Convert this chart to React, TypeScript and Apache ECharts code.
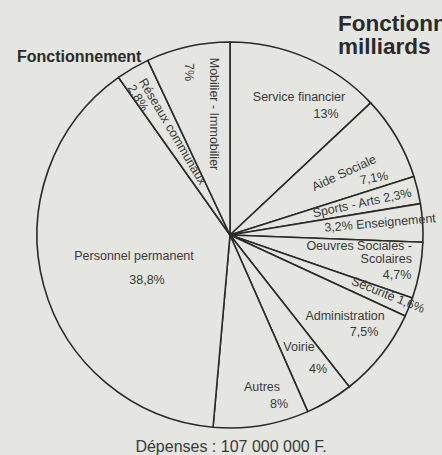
import React, { useEffect, useRef } from "react";
import * as echarts from "echarts";

// ---- data (clockwise from 12 o'clock) ----
const categories = [
  "Service financier",
  "Aide Sociale",
  "Sports - Arts",
  "Enseignement",
  "Oeuvres Sociales -\nScolaires",
  "Sécurité",
  "Administration",
  "Voirie",
  "Autres",
  "Personnel permanent",
  "Réseaux communaux",
  "Mobilier - Immobilier",
];
const shares = [13, 7.1, 2.3, 3.2, 4.7, 1.6, 7.5, 4, 8, 38.8, 2.8, 7];
// how name and share are written: "sep" = separate label, "after" = "name pct", "before" = "pct name"
const labelForms = ["sep", "sep", "after", "before", "sep", "after", "sep", "sep", "sep", "sep", "sep", "sep"];

const titleLeft = "Fonctionnement";
const titleRight1 = "Fonctionnement";
const titleRight2 = "milliards";
const footer = "Dépenses : 107 000 000 F.";

// ---- label placement (styling only): [x, y, rotate, align] ----
const NAME_POS: [number, number, number, string][] = [
  [299, 97, 0, "center"],
  [344, 173, 25, "center"],
  [362, 203, 12, "center"],
  [380, 223, 5, "center"],
  [412, 252.5, 0, "right"],
  [388, 295, -22, "center"],
  [345, 316, 0, "center"],
  [299, 347, 0, "center"],
  [262, 387, 0, "center"],
  [134, 256, 0, "center"],
  [172.6, 131.5, -59.5, "center"],
  [214, 114, -90, "center"],
];
const PCT_POS: [number, number, number, string][] = [
  [326, 114, 0, "center"],
  [374, 178, 10, "center"],
  [0, 0, 0, "center"],
  [0, 0, 0, "center"],
  [397, 275, 0, "center"],
  [0, 0, 0, "center"],
  [364, 332, 0, "center"],
  [318, 369, 0, "center"],
  [279, 404, 0, "center"],
  [147, 280, 0, "center"],
  [138, 98, -59.5, "center"],
  [189, 72, -90, "center"],
];

const BG = "#e5e5e1";
const LINE = "#2a2a2a";
const TEXT = "#3a3a3a";
const FONT = "'Liberation Sans', Arial, Helvetica, sans-serif";

const fmtPct = (v: number) => String(v).replace(".", ",") + "%";

export default function App() {
  const ref = useRef<HTMLDivElement>(null);
  useEffect(() => {
    if (!ref.current) return;
    const chart = echarts.init(ref.current, undefined, { renderer: "svg" });

    const nameLabel = (i: number) => {
      const p = fmtPct(shares[i]);
      const f = labelForms[i];
      if (f === "after") return categories[i] + " " + p;
      if (f === "before") return p + " " + categories[i];
      return categories[i];
    };

    const baseLabel = {
      show: true,
      position: "inside",
      color: TEXT,
      fontFamily: FONT,
      fontSize: 12.5,
      lineHeight: 13,
    };

    const layoutFrom = (table: [number, number, number, string][]) => (params: any) => {
      const L = table[params.dataIndex];
      return { x: L[0], y: L[1], rotate: L[2], align: L[3], verticalAlign: "middle" };
    };

    const option: any = {
      animation: false,
      backgroundColor: BG,
      graphic: [
        {
          type: "text",
          style: { text: titleLeft, x: 17, y: 56.5, fill: "#2a2a2a", font: `bold 16px ${FONT}`, textVerticalAlign: "middle" },
        },
        {
          type: "text",
          style: { text: titleRight1, x: 338, y: 23, fill: "#2a2a2a", font: `bold 22.5px ${FONT}`, textVerticalAlign: "middle" },
        },
        {
          type: "text",
          style: { text: titleRight2, x: 338, y: 46, fill: "#2a2a2a", font: `bold 22.5px ${FONT}`, textVerticalAlign: "middle" },
        },
        {
          type: "text",
          style: { text: footer, x: 231, y: 446, fill: TEXT, font: `16px ${FONT}`, textAlign: "center", textVerticalAlign: "middle" },
        },
      ],
      series: [
        {
          type: "pie",
          center: [230, 235],
          radius: 193,
          startAngle: 90,
          clockwise: true,
          silent: true,
          itemStyle: { color: BG, borderColor: LINE, borderWidth: 1.6 },
          label: { ...baseLabel, formatter: (p: any) => nameLabel(p.dataIndex) },
          labelLine: { show: false },
          labelLayout: layoutFrom(NAME_POS),
          emphasis: { disabled: true },
          data: categories.map((c, i) => ({ name: c, value: shares[i] })),
        },
        {
          type: "pie",
          center: [230, 235],
          radius: 193,
          startAngle: 90,
          clockwise: true,
          silent: true,
          itemStyle: { color: "rgba(0,0,0,0)", borderWidth: 0 },
          label: { ...baseLabel, formatter: (p: any) => fmtPct(p.value) },
          labelLine: { show: false },
          labelLayout: layoutFrom(PCT_POS),
          emphasis: { disabled: true },
          data: categories.map((c, i) => ({
            name: c,
            value: shares[i],
            label: { show: labelForms[i] === "sep" },
          })),
        },
      ],
    };
    chart.setOption(option);
    return () => chart.dispose();
  }, []);

  return (
    <div
      ref={ref}
      style={{ position: "fixed", left: 0, top: 0, width: 442, height: 455, background: BG }}
    />
  );
}
